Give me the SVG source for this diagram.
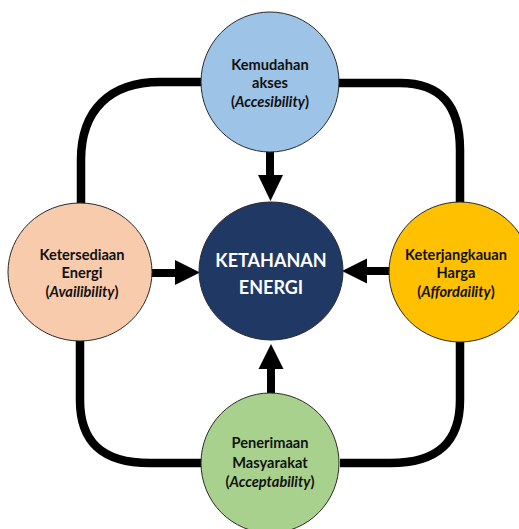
<svg xmlns="http://www.w3.org/2000/svg" width="519" height="529" viewBox="0 0 519 529">
<defs>
<style>
.conn{fill:none;stroke:#000;stroke-width:8.5}
.shaft{fill:none;stroke:#000;stroke-width:8}
.shaft{stroke-linecap:round}
.head{fill:#000}
.node{stroke:#2b2b2b;stroke-width:1}
.lbl{font-family:Lato,"Open Sans","Noto Sans",sans-serif;font-weight:bold;font-size:14.6px;fill:#111;text-anchor:middle}
.big{font-family:Lato,"Open Sans","Noto Sans",sans-serif;font-weight:bold;font-size:18px;fill:#fff;text-anchor:middle}
</style>
</defs>
<rect width="519" height="529" fill="#fff"/>
<g id="connectors">
<path class="conn" d="M203,82 H160 C110,82 81,110 81,160 V204"/>
<path class="conn" d="M338,83 H400 C440,83 460,105 460,150 V203"/>
<path class="conn" d="M460,342 V400 C460,440 440,463 390,463 H340"/>
<path class="conn" d="M80,340 V400 C80,440 100,463 150,463 H202"/>
<path class="shaft" d="M270,151 V178"/>
<polygon class="head" points="258,175 283,175 270.5,201"/>
<path class="shaft" d="M149,273 H178"/>
<polygon class="head" points="175,260 175,285 200,272.5"/>
<path class="shaft" d="M389,271 H364"/>
<polygon class="head" points="367,258.5 367,283.5 342,271"/>
<path class="shaft" d="M271,392 V366"/>
<polygon class="head" points="258.5,369 283.5,369 271,344"/>
</g>
<g id="top">
<ellipse class="node" cx="270" cy="82" rx="69" ry="70" fill="#9DC3E6"/>
<text class="lbl" x="270" y="70">Kemudahan</text>
<text class="lbl" x="270" y="88">akses</text>
<text class="lbl" x="270" y="107">(<tspan font-style="italic">Accesibility</tspan>)</text>
</g>
<g id="left">
<ellipse class="node" cx="80" cy="272" rx="72" ry="69" fill="#F8CBAD"/>
<text class="lbl" x="82" y="260">Ketersediaan</text>
<text class="lbl" x="82" y="278">Energi</text>
<text class="lbl" x="82" y="297">(<tspan font-style="italic">Availibility</tspan>)</text>
</g>
<g id="right">
<ellipse class="node" cx="460" cy="272" rx="71" ry="70" fill="#FFC000"/>
<text class="lbl" x="456" y="260">Keterjangkauan</text>
<text class="lbl" x="456" y="278">Harga</text>
<text class="lbl" x="456" y="297">(<tspan font-style="italic">Affordaility</tspan>)</text>
</g>
<g id="bottom">
<ellipse class="node" cx="270" cy="463" rx="69" ry="70" fill="#A9D18E"/>
<text class="lbl" x="270" y="448">Penerimaan</text>
<text class="lbl" x="270" y="468">Masyarakat</text>
<text class="lbl" x="270" y="487">(<tspan font-style="italic">Acceptability</tspan>)</text>
</g>
<g id="center">
<ellipse class="node" cx="271" cy="271" rx="72" ry="69" fill="#203864"/>
<text class="big" x="271" y="267">KETAHANAN</text>
<text class="big" x="271" y="294">ENERGI</text>
</g>
</svg>
